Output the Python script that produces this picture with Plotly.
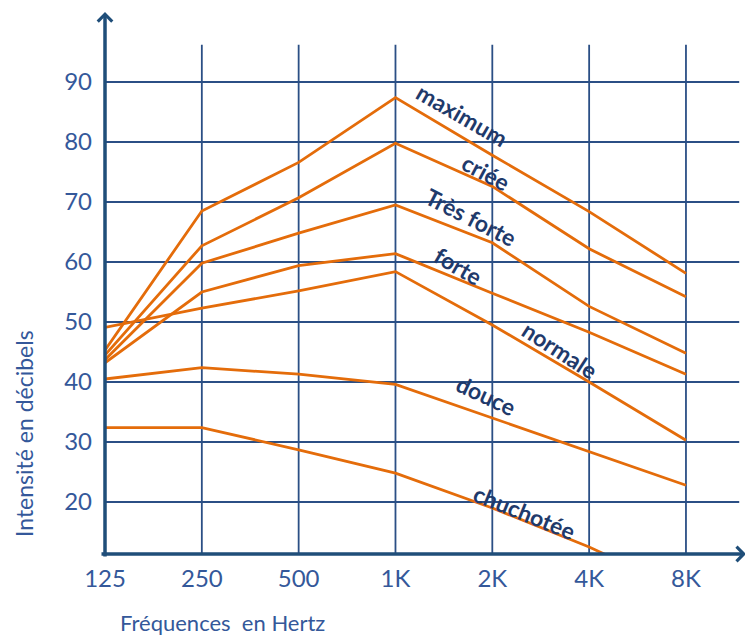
import plotly.graph_objects as go

# ---- data ----
freq_labels = ["125", "250", "500", "1K", "2K", "4K", "8K"]
maximum = [45.3, 68.5, 76.6, 87.4, 77.8, 68.4, 58.1]
criee = [44.5, 62.7, 70.7, 79.8, 72.6, 62.2, 54.2]
tres_forte = [43.7, 59.8, 64.8, 69.5, 63.2, 52.6, 44.8]
forte = [43.2, 55.0, 59.4, 61.4, 54.8, 48.3, 41.3]
normale = [49.1, 52.3, 55.2, 58.4, 49.5, 40.0, 30.3]
douce = [40.5, 42.4, 41.3, 39.6, 34.0, 28.4, 22.8]
chuchotee = [32.4, 32.4, 28.7, 24.8, 19.0, 12.5, 5.0]

series_names = ["maximum", "criée", "Très forte", "forte", "normale", "douce", "chuchotée"]
series_values = [maximum, criee, tres_forte, forte, normale, douce, chuchotee]

y_ticks = [20, 30, 40, 50, 60, 70, 80, 90]

# label placement (data coords) and rotation for the in-chart labels
label_x = [3.69, 3.93, 3.78, 3.65, 4.70, 3.93, 4.33]
label_y = [84.5, 75.0, 67.5, 59.3, 45.3, 37.8, 18.3]
label_angle = [30, 28, 27, 30, 33, 25, 22]

# ---- style ----
ORANGE = "#E46C0A"
GRID = "#2B4F85"
AXIS = "#1F4E79"
TICK = "#34589A"
LABEL = "#1F3A6B"
FONT = "Lato"

X_MAX = 6.682
Y_MIN, Y_MAX = 11.333, 102.0
GRID_X_END = 6.55
GRID_Y_END = 96.2

xs = list(range(len(freq_labels)))

fig = go.Figure()
for name, vals in zip(series_names, series_values):
    fig.add_trace(go.Scatter(x=xs, y=vals, mode="lines", name=name,
                             line=dict(color=ORANGE, width=2.8), hoverinfo="skip"))

shapes = []
for v in y_ticks:
    shapes.append(dict(type="line", xref="x", yref="y", x0=0, x1=GRID_X_END, y0=v, y1=v,
                       line=dict(color=GRID, width=1.8), layer="below"))
for i in xs[1:]:
    shapes.append(dict(type="line", xref="x", yref="y", x0=i, x1=i, y0=Y_MIN, y1=GRID_Y_END,
                       line=dict(color=GRID, width=1.8), layer="below"))

annotations = []
for name, lx, ly, ang in zip(series_names, label_x, label_y, label_angle):
    annotations.append(dict(x=lx, y=ly, xref="x", yref="y", text=f"<b>{name}</b>",
                            textangle=ang, showarrow=False,
                            font=dict(family=FONT, size=23, color=LABEL)))

# axis lines with arrowheads
annotations.append(dict(x=1.0 - 6 / 647, y=0, xref="paper", yref="paper", text="", showarrow=True,
                        ax=-646, ay=0, arrowhead=4, arrowsize=0.8, arrowwidth=3.5,
                        arrowcolor=AXIS, standoff=0))
annotations.append(dict(x=0, y=1.0 - 2 / 544, xref="paper", yref="paper", text="", showarrow=True,
                        ax=0, ay=546, arrowhead=4, arrowsize=0.8, arrowwidth=3.5,
                        arrowcolor=AXIS, standoff=0))

# axis titles
annotations.append(dict(x=-0.1252, y=0.2224, xref="paper", yref="paper",
                        xanchor="center", yanchor="middle",
                        text="Intensité en décibels", textangle=-90, showarrow=False,
                        font=dict(family=FONT, size=23, color=TICK)))
annotations.append(dict(x=0.181, y=-0.125, xref="paper", yref="paper",
                        xanchor="center", yanchor="middle",
                        text="Fréquences  en Hertz", showarrow=False,
                        font=dict(family=FONT, size=22, color=TICK)))

fig.update_layout(
    width=745, height=630,
    margin=dict(l=97, r=1, t=2, b=84),
    paper_bgcolor="white", plot_bgcolor="white",
    showlegend=False,
    shapes=shapes, annotations=annotations,
    xaxis=dict(range=[0, X_MAX], tickvals=xs, ticktext=freq_labels, showgrid=False,
               zeroline=False, showline=False, ticks="", ticklabelstandoff=8,
               tickfont=dict(family=FONT, size=24, color=TICK), fixedrange=True),
    yaxis=dict(range=[Y_MIN, Y_MAX], tickvals=y_ticks, showgrid=False, zeroline=False,
               showline=False, ticks="", ticklabelstandoff=12,
               tickfont=dict(family=FONT, size=24, color=TICK), fixedrange=True),
)

fig.write_html("out.html")
